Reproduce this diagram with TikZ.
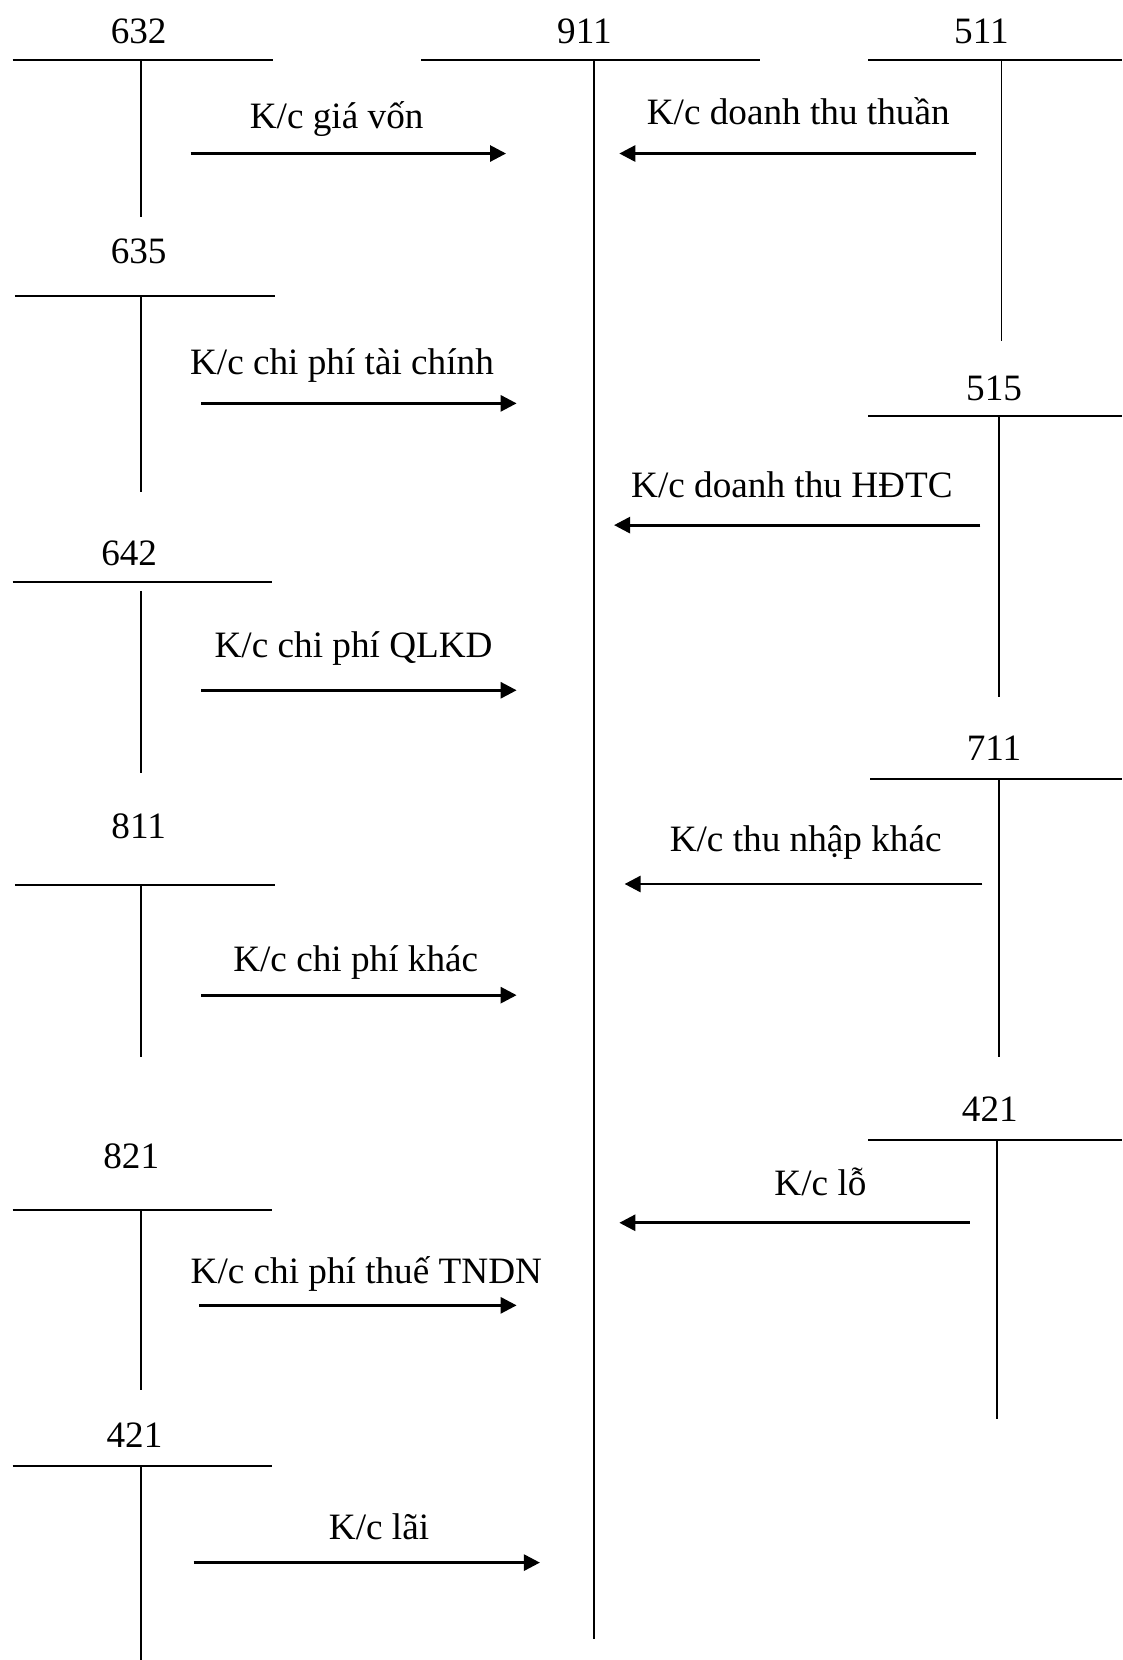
\documentclass[tikz,border=0pt]{standalone}
\usepackage{fontspec}
\setmainfont{Liberation Serif}
\usetikzlibrary{arrows.meta}
\begin{document}
\begin{tikzpicture}[x={(0.52925pt,0pt)},y={(0pt,-0.52925pt)},
  acct/.style={line width=0.95pt},
  flow/.style={line width=1.4pt,-{Triangle[length=8pt,width=8pt]}},
  lbl/.style={anchor=base,inner sep=0pt,font=\fontsize{18.6}{22}\selectfont}]
\useasboundingbox (0,0) rectangle (1060,1568);
% ---- T accounts (left column)
\node[lbl] (t632) at (131,41) {632};
\draw[acct] (12,57) -- (258,57) (133,57) -- (133,205);
\node[lbl] (t635) at (131,249) {635};
\draw[acct] (14,280) -- (260,280) (133,280) -- (133,465);
\node[lbl] (t642) at (122,534) {642};
\draw[acct] (12,550) -- (257,550) (133,558) -- (133,730);
\node[lbl] (t811) at (131,792) {811};
\draw[acct] (14,836) -- (260,836) (133,836) -- (133,998);
\node[lbl] (t821) at (124,1104) {821};
\draw[acct] (12,1143) -- (257,1143) (133,1143) -- (133,1313);
\node[lbl] (t421a) at (127,1367) {421};
\draw[acct] (12,1385) -- (257,1385) (133,1385) -- (133,1568);
% ---- 911
\node[lbl] (t911) at (552,41) {911};
\draw[acct] (398,57) -- (718,57) (561,57) -- (561,1548);
% ---- right column
\node[lbl] (t511) at (927,41) {511};
\draw[acct] (820,57) -- (1060,57) (946,57) -- (946,322);
\node[lbl] (t515) at (939,378) {515};
\draw[acct] (820,393) -- (1060,393) (944,393) -- (944,658);
\node[lbl] (t711) at (939,718) {711};
\draw[acct] (822,736) -- (1060,736) (944,736) -- (944,998);
\node[lbl] (t421b) at (935,1059) {421};
\draw[acct] (820,1077) -- (1060,1077) (942,1077) -- (942,1340);
% ---- arrow end points
\coordinate (a1s) at (180,145);  \coordinate (a1e) at (478,145);
\coordinate (b1s) at (922,145);  \coordinate (b1e) at (585,145);
\coordinate (a2s) at (190,381);  \coordinate (a2e) at (488,381);
\coordinate (b2s) at (926,496);  \coordinate (b2e) at (580,496);
\coordinate (a3s) at (190,652);  \coordinate (a3e) at (488,652);
\coordinate (b3s) at (928,835);  \coordinate (b3e) at (590,835);
\coordinate (a4s) at (190,940);  \coordinate (a4e) at (488,940);
\coordinate (b4s) at (916,1155); \coordinate (b4e) at (585,1155);
\coordinate (a5s) at (188,1233); \coordinate (a5e) at (488,1233);
\coordinate (a6s) at (183,1476); \coordinate (a6e) at (510,1476);
% ---- arrows
\draw[flow] (a1s) -- (a1e);
\draw[flow] (b1s) -- (b1e);
\draw[flow] (a2s) -- (a2e);
\draw[flow] (b2s) -- (b2e);
\draw[flow] (a3s) -- (a3e);
\draw[flow] (b3s) -- (b3e);
\draw[flow] (a4s) -- (a4e);
\draw[flow] (b4s) -- (b4e);
\draw[flow] (a5s) -- (a5e);
\draw[flow] (a6s) -- (a6e);
% ---- arrow labels
\node[lbl] (l1) at (318,121) {K/c giá vốn};
\node[lbl] (r1) at (754,118) {K/c doanh thu thuần};
\node[lbl] (l2) at (323,354) {K/c chi phí tài chính};
\node[lbl] (r2) at (748,470) {K/c doanh thu HĐTC};
\node[lbl] (l3) at (334,621) {K/c chi phí QLKD};
\node[lbl] (r3) at (761,804) {K/c thu nhập khác};
\node[lbl] (l4) at (336,918) {K/c chi phí khác};
\node[lbl] (r4) at (775,1129) {K/c lỗ};
\node[lbl] (l5) at (346,1212) {K/c chi phí thuế TNDN};
\node[lbl] (l6) at (358,1454) {K/c lãi};
\end{tikzpicture}
\end{document}
